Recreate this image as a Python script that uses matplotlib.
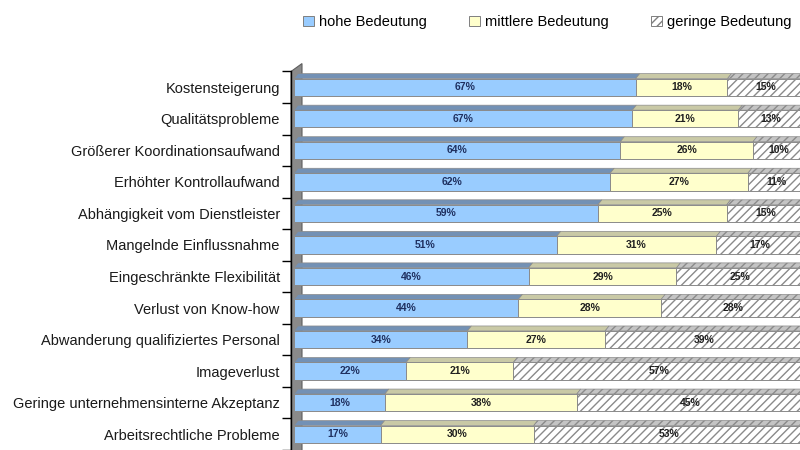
import matplotlib
matplotlib.use("Agg")
import matplotlib.pyplot as plt
from matplotlib.patches import Polygon, Patch
import numpy as np

plt.rcParams["font.family"] = ["Liberation Sans", "DejaVu Sans"]
plt.rcParams["hatch.linewidth"] = 1.0

categories = [
    "Kostensteigerung",
    "Qualitätsprobleme",
    "Größerer Koordinationsaufwand",
    "Erhöhter Kontrollaufwand",
    "Abhängigkeit vom Dienstleister",
    "Mangelnde Einflussnahme",
    "Eingeschränkte Flexibilität",
    "Verlust von Know-how",
    "Abwanderung qualifiziertes Personal",
    "Imageverlust",
    "Geringe unternehmensinterne Akzeptanz",
    "Arbeitsrechtliche Probleme",
]
hohe = [67, 67, 64, 62, 59, 51, 46, 44, 34, 22, 18, 17]
mittlere = [18, 21, 26, 27, 25, 31, 29, 28, 27, 21, 38, 30]
geringe = [15, 13, 10, 11, 15, 17, 25, 28, 39, 57, 45, 53]
series_names = ["hohe Bedeutung", "mittlere Bedeutung", "geringe Bedeutung"]

W, H, DPI = 800, 450, 100
fig = plt.figure(figsize=(W / DPI, H / DPI), dpi=DPI)

# plot area in pixels: x 0..100 % spans 294..804 px, rows every 31.8 px
x0_px, x_span_px = 294, 510
row0_px, row_step = 87.5, 31.82
top_px = 60
ax = fig.add_axes([x0_px / W, 0, x_span_px / W, (H - top_px) / H])
ax.set_xlim(0, 100)
ax.set_ylim((H - row0_px) / row_step, (top_px - row0_px) / row_step)

px_x = 100 / x_span_px          # data units per pixel (x)
px_y = 1 / row_step             # data units per pixel (y)

y = np.arange(len(categories))
data = np.array([hohe, mittlere, geringe], dtype=float)
shares = data / data.sum(axis=0) * 100
lefts = np.vstack([np.zeros(len(y)), np.cumsum(shares, axis=0)[:-1]])

front_cols = ["#99ccff", "#ffffcc", "#ffffff"]
top_cols = ["#7391b5", "#c9c9a6", "#c4c4c4"]
hatches = [None, None, "////"]
text_cols = ["#1f3060", "#202020", "#202020"]
bar_h = 0.55
depth_dx, depth_dy = 4 * px_x, 5 * px_y

# left side wall
wall = Polygon(
    [(-3 * px_x, -0.5), (8 * px_x, -0.5 - 8 * px_y), (8 * px_x, 12.5), (-3 * px_x, 12.5)],
    closed=True, facecolor="#8a8a8a", edgecolor="#5e5e5e", linewidth=0.8,
    zorder=1, clip_on=False)
ax.add_patch(wall)

for k in range(3):
    ax.barh(y, shares[k], left=lefts[k], height=bar_h, color=front_cols[k],
            edgecolor="#8a8a8a", linewidth=0.7, hatch=hatches[k], zorder=3)
    for i in y:
        l, w = lefts[k][i], shares[k][i]
        yt = i - bar_h / 2
        top = Polygon([(l, yt), (l + w, yt), (l + w + depth_dx, yt - depth_dy),
                       (l + depth_dx, yt - depth_dy)], closed=True,
                      facecolor=top_cols[k], edgecolor="#8a8a8a", linewidth=0.5,
                      hatch=hatches[k], zorder=2.5)
        ax.add_patch(top)
        ax.text(l + w / 2, i, f"{data[k][i]:.0f}%", ha="center", va="center",
                fontsize=7.5, fontweight="bold", color=text_cols[k], zorder=4)

# axes styling
for s in ["top", "right", "bottom"]:
    ax.spines[s].set_visible(False)
ax.spines["left"].set_position(("outward", 2.2))
ax.spines["left"].set_bounds(-0.5, 12.5)
ax.spines["left"].set_linewidth(1.0)
ax.set_xticks([])
ax.set_yticks(y, labels=categories)
ax.set_yticks(np.arange(-0.5, len(y), 1), minor=True)
ax.tick_params(axis="y", which="major", length=0, pad=8, labelsize=10.5,
               labelcolor="#1a1a1a")
ax.tick_params(axis="y", which="minor", length=6.5, width=1.0, color="black")

handles = [Patch(facecolor=front_cols[k], edgecolor="#7f7f7f", hatch=hatches[k],
                 linewidth=0.7) for k in range(3)]
fig.legend(handles, series_names, loc="center", bbox_to_anchor=(547 / W, 1 - 22 / H),
           ncol=3, frameon=False, fontsize=10.5, handlelength=0.75, handleheight=0.75,
           handletextpad=0.35, columnspacing=2.9, borderaxespad=0)

fig.savefig("out.png", dpi=DPI)
